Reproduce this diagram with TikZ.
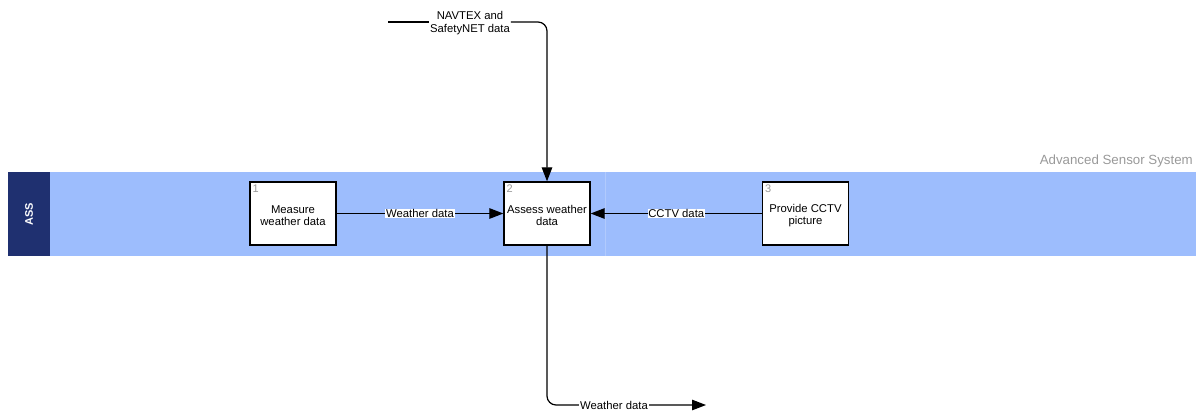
\documentclass[tikz,border=0pt]{standalone}
\usepackage{fontspec}
\setmainfont{Liberation Sans}
\usetikzlibrary{arrows.meta}
\definecolor{lanebg}{HTML}{9DBDFD}
\definecolor{lanehead}{HTML}{1F3070}
\definecolor{numgray}{HTML}{999999}
\tikzset{
  x=1pt, y=-1pt,
  procbox/.style={draw=black, line width=1.3pt, fill=white, minimum width=86pt, minimum height=63pt, inner sep=1pt, align=center, font=\fontsize{11.3}{12.5}\selectfont},
  flow/.style={draw=black, line width=1.2pt, -{Triangle[length=14pt,width=10.5pt]}},
  flowlabel/.style={fill=white, inner sep=0.8pt, font=\fontsize{11.3}{12.5}\selectfont},
  numlabel/.style={text=numgray, font=\fontsize{11}{12}\selectfont, inner sep=0pt, anchor=north west}
}
\begin{document}
\begin{tikzpicture}
\useasboundingbox (0,0) rectangle (1196,410);
% swimlane
\fill[lanebg] (8,172) rectangle (1196,256);
\draw[lanebg!80!white, line width=0.6pt] (605,172) -- (605,256);
\fill[lanehead] (8,172) rectangle (50,256);
\node[text=white, rotate=90, font=\bfseries\fontsize{11}{12}\selectfont] (lanename) at (29,214) {ASS};
\node[text=numgray, anchor=east, font=\fontsize{13.3}{14}\selectfont, inner sep=0pt] (lanetitle) at (1193,161) {Advanced Sensor System};
% processes
\node[procbox] (p1) at (293,213.5) {\\Measure\\weather data};
\node[procbox] (p2) at (547,213.5) {\\Assess weather\\data};
\node[procbox] (p3) at (805.5,213.5) {\\Provide CCTV\\picture};
\node[numlabel] (n1) at ([shift={(3,3)}]p1.north west) {1};
\node[numlabel] (n2) at ([shift={(3,3)}]p2.north west) {2};
\node[numlabel] (n3) at ([shift={(3,3)}]p3.north west) {3};
% external flows
\coordinate (navstart) at (388,22);
\coordinate (wdend) at (706,405);
\node[flowlabel, align=center, fill=none] (navlabel) at (470,23) {NAVTEX and\\SafetyNET data};
\draw[line width=1.2pt] (navstart) -- (navlabel.west |- navstart);
\draw[flow, rounded corners=9pt] (navlabel.east |- navstart) -- (p2.north |- navstart) -- (p2.north);
\draw[flow, rounded corners=9pt] (p2.south) -- (p2.south |- wdend) -- (wdend);
\node[flowlabel] (wdlabel) at (614,405) {Weather data};
% internal flows
\draw[flow] (p1.east) -- (p2.west) node[flowlabel, midway] (wlabel) {Weather data};
\draw[flow] (p3.west) -- (p2.east) node[flowlabel, midway] (clabel) {CCTV data};
\end{tikzpicture}
\end{document}
